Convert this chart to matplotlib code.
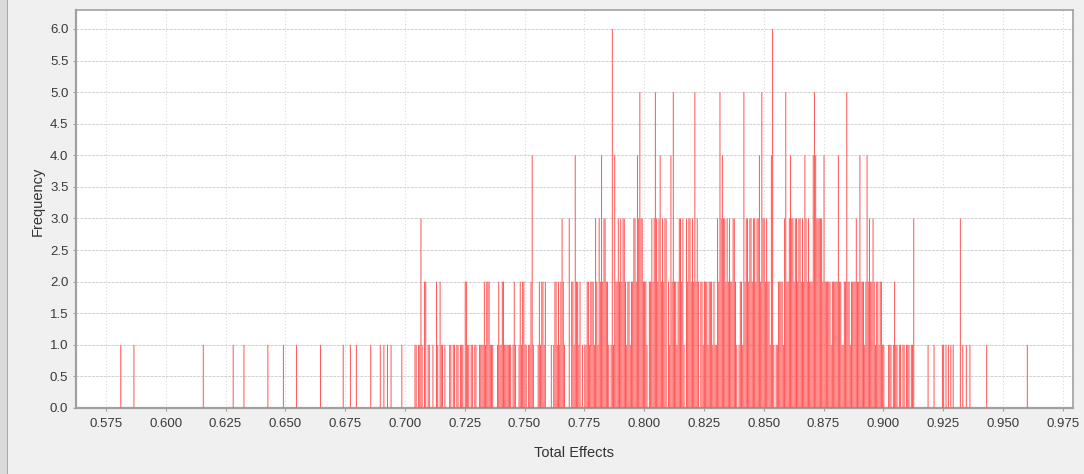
import matplotlib
matplotlib.use('Agg')
import matplotlib.pyplot as plt
from matplotlib.patches import Rectangle

# histogram: one string per 0.01 wide row,
# 20 bins of 0.0005 each, digit = frequency of that bin
bin_start = 0.570
bin_width = 0.0005
freq_rows = [
    '00000000000000000000',  # 0.570
    '00100000000001000000',  # 0.580
    '00000000000000000000',  # 0.590
    '00000000000000000000',  # 0.600
    '00000000000100000000',  # 0.610
    '00000000000000001000',  # 0.620
    '00000100000000000000',  # 0.630
    '00000100000000000010',  # 0.640
    '00000000010000000000',  # 0.650
    '00000000010000000000',  # 0.660
    '00000000100000100001',  # 0.670
    '00000000000100000001',  # 0.680
    '00100100100000000100',  # 0.690
    '00000000110113102201',  # 0.700
    '10010021021101000110',  # 0.710
    '11011011102211011011',  # 0.720
    '00111121222111000121',  # 0.730
    '12211111101210012122',  # 0.740
    '11011241000121221200',  # 0.750
    '00101221212321000302',  # 0.760
    '21422120101122122213',  # 0.770
    '21324233221016142232',  # 0.780
    '32332122122332435332',  # 0.790
    '22102232353234232330',  # 0.800
    '21425221233231032332',  # 0.810
    '32523202212221222121',  # 0.820
    '13253433232322332101',  # 0.830
    '22152332332332334253',  # 0.840
    '32322146101122221352',  # 0.850
    '23433233233232432322',  # 0.860
    '24543333324222221222',  # 0.870
    '22422112252212222322',  # 0.880
    '42221242322321221221',  # 0.890
    '10001110121101101101',  # 0.900
    '11011300000000000100',  # 0.910
    '00100000011010101010',  # 0.920
    '00003010010010000000',  # 0.930
    '00000010000000000000',  # 0.940
    '00000000000000000000',  # 0.950
    '10000000000000000000',  # 0.960
]

x_ticks = [0.575, 0.600, 0.625, 0.650, 0.675, 0.700, 0.725, 0.750, 0.775,
           0.800, 0.825, 0.850, 0.875, 0.900, 0.925, 0.950, 0.975]
y_ticks = [0.0, 0.5, 1.0, 1.5, 2.0, 2.5, 3.0, 3.5, 4.0, 4.5, 5.0, 5.5, 6.0]

freq = [int(c) for row in freq_rows for c in row]
effects = [round(bin_start + i * bin_width, 4) for i in range(len(freq))]
bars_x = [x for x, f in zip(effects, freq) if f > 0]
bars_h = [f for f in freq if f > 0]

plt.rcParams['font.family'] = ['Liberation Sans', 'DejaVu Sans']

W, H = 1084, 474
fig = plt.figure(figsize=(W / 100, H / 100), dpi=100, facecolor='#f0f0f0')
# window edge on the left
fig.patches.append(Rectangle((0, 0), 7 / W, 1, transform=fig.transFigure,
                             facecolor='#dadada', edgecolor='none', zorder=0))
fig.patches.append(Rectangle((7 / W, 0), 1.2 / W, 1, transform=fig.transFigure,
                             facecolor='#a8a8a8', edgecolor='none', zorder=0))

ax = fig.add_axes([76 / W, (H - 408) / H, 997 / W, 398 / H])
ax.set_facecolor('white')

bars = ax.bar(bars_x, bars_h, width=bin_width * 0.85, align='edge',
              color='#ff5a5a', edgecolor='none', zorder=3)
for b in bars:
    b.set_snap(False)

ax.set_xlim(0.5625, 0.9793)
ax.set_ylim(0, 6.3)
ax.set_xticks(x_ticks)
ax.set_xticklabels(['%.3f' % v for v in x_ticks])
ax.set_yticks(y_ticks)
ax.set_yticklabels(['%.1f' % v for v in y_ticks])

ax.yaxis.grid(True, color='#d2d2d2', linestyle=(0, (3, 1)), linewidth=0.7, zorder=1)
ax.xaxis.grid(True, color='#dadada', linestyle=(0, (1, 2)), linewidth=0.8, zorder=1)

for side in ['left', 'bottom', 'top', 'right']:
    ax.spines[side].set_color('#a0a0a0')
ax.spines['left'].set_linewidth(1.6)
ax.spines['bottom'].set_linewidth(1.6)
ax.spines['top'].set_linewidth(1.2)
ax.spines['right'].set_linewidth(1.2)

ax.tick_params(axis='both', colors='#a0a0a0', labelcolor='#3a3a3a',
               labelsize=9.5, length=2.5, width=0.8)
ax.tick_params(axis='x', pad=4.5)
ax.tick_params(axis='y', pad=3)

ax.set_xlabel('Total Effects', fontsize=10.5, color='#333333')
ax.set_ylabel('Frequency', fontsize=10.5, color='#333333')
ax.xaxis.set_label_coords(0.5, -0.095)
ax.yaxis.set_label_coords(-0.031, 0.52)

fig.savefig('out.png', dpi=100, facecolor=fig.get_facecolor())
